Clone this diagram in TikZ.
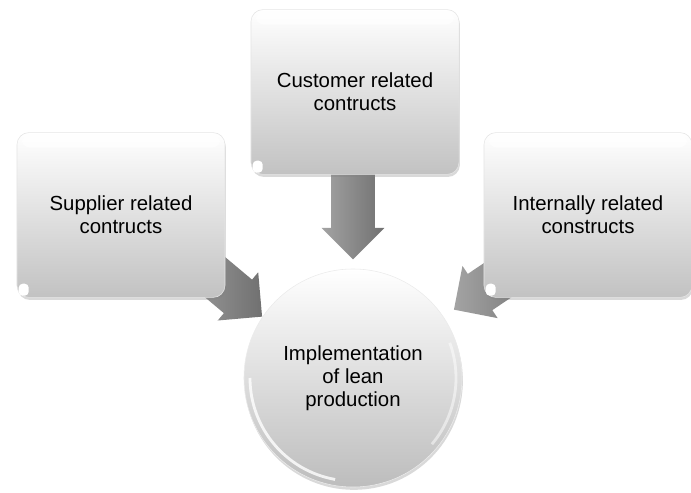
\documentclass[tikz,border=0pt]{standalone}
\usepackage{fontspec}
\setmainfont{Liberation Sans}
\usetikzlibrary{shapes.arrows,shadows,calc}

\begin{document}
\begin{tikzpicture}[
  x=0.025cm,y=-0.025cm,
  font=\fontsize{14.5}{16.5}\selectfont,
  construct/.style={rounded corners=3mm,minimum width=5.2cm,minimum height=4.12cm,
    align=center,top color=white,bottom color=black!24,draw=black!10,
    drop shadow={shadow xshift=0.6pt,shadow yshift=-1.8pt,opacity=0.3}},
  goal/.style={circle,minimum size=5.45cm,align=center,top color=white,
    bottom color=black!26,draw=black!8,
    drop shadow={shadow xshift=0.6pt,shadow yshift=-2pt,opacity=0.3}},
  flow/.style={single arrow,minimum height=2.5cm,inner xsep=0pt,inner ysep=0.54cm,
    single arrow head extend=0.24cm,single arrow tip angle=90,
    left color=black!36,right color=black!56,anchor=tip},
  gloss/.style={white,opacity=0.75,rounded corners=2mm},
  notch/.style={white,rounded corners=1mm},
  rim/.style={white,line width=2pt,opacity=0.8}
]
\useasboundingbox (0,0) rectangle (691,493);

% the outcome in the middle
\node[goal] (impl) at (353,378) {Implementation\\of lean\\production};
\draw[rim] ($(impl.center)+(-103,0)$) arc[start angle=180,end angle=100,radius=103];
\draw[rim,opacity=0.5] ($(impl.center)+(-20:103)$) arc[start angle=-20,end angle=40,radius=103];

% arrows into the circle
\node[flow,rotate=-90] (arrcust) at ($(impl.north)+(0,-9)$) {};
\node[flow,rotate=-40] (arrsup) at (impl.146) {};
\node[flow,rotate=-146] (arrintl) at ($(impl.34)+(10,-7)$) {};

% the three groups of constructs
\node[construct] (cust) at (355,92) {Customer related\\contructs};
\node[construct] (sup) at (121,215) {Supplier related\\contructs};
\node[construct] (intl) at (588,215) {Internally related\\constructs};

\foreach \grp in {cust,sup,intl}{
  \fill[gloss] ([shift={(5,3)}]\grp.north west) rectangle ([shift={(-5,15)}]\grp.north east);
  \fill[notch] ([shift={(2,-2)}]\grp.south west) rectangle ++(10,-12);
}
\end{tikzpicture}
\end{document}
